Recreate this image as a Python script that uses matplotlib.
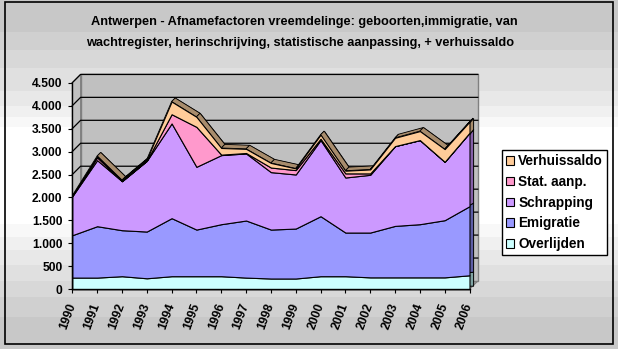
import numpy as np
import matplotlib.pyplot as plt
from matplotlib.patches import Polygon, Rectangle, Patch
from matplotlib.ticker import FuncFormatter

# Afnamefactoren vreemdelingen Antwerpen, per jaar (gestapeld)
jaren = np.arange(1990, 2007)
overlijden = [255, 255, 285, 240, 285, 285, 285, 255, 235, 235, 285, 285, 260, 260, 260, 260, 305]
emigratie = [923, 1119, 1002, 1018, 1264, 1016, 1133, 1243, 1066, 1088, 1307, 951, 976, 1121, 1158, 1245, 1505]
schrapping = [850, 1439, 1068, 1541, 2064, 1367, 1505, 1461, 1251, 1178, 1658, 1199, 1258, 1738, 1832, 1272, 1600]
stat_aanp = [0, 60, 0, 0, 200, 870, 10, 10, 100, 95, 30, 90, 30, 0, 0, 0, 0]
verhuissaldo = [15, 30, 22, 30, 276, 218, 145, 90, 100, 37, 87, 58, 87, 181, 196, 276, 240]

reeksen = [overlijden, emigratie, schrapping, stat_aanp, verhuissaldo]
namen = ['Overlijden', 'Emigratie', 'Schrapping', 'Stat. aanp.', 'Verhuissaldo']
kleuren = ['#CCFFFF', '#9999FF', '#CC99FF', '#FF99CC', '#FFCC99']
donker = ['#7FA3A3', '#5E5EA6', '#8560A8', '#A8607F', '#A88C6C']

titel1 = 'Antwerpen - Afnamefactoren vreemdelinge: geboorten,immigratie, van'
titel2 = 'wachtregister, herinschrijving, statistische aanpassing, + verhuissaldo'

W, H = 618, 349
plt.rcParams['font.family'] = ['Liberation Sans', 'DejaVu Sans']

fig = plt.figure(figsize=(W / 100, H / 100), dpi=100)
fig.patch.set_facecolor('white')

# achtergrond met verloop in banden en kader
bg = fig.add_axes([0, 0, 1, 1], zorder=-10)
rij = np.arange(H)
licht = np.interp(rij, [0, 37, 60, 98, 132, 217, 250, 280, 312, 343],
                  [0.78, 0.80, 0.85, 0.90, 1.0, 1.0, 0.92, 0.86, 0.80, 0.78])
licht = np.round(licht * 32) / 32
bg.imshow(np.repeat(licht[:, None], 2, axis=1), cmap='gray', vmin=0, vmax=1,
          aspect='auto', extent=[0, W, H, 0], interpolation='nearest')
bg.add_patch(Rectangle((4.5, 1.5), 608, 342, fill=False, edgecolor='black', lw=1.2))
bg.set_xlim(0, W)
bg.set_ylim(H, 0)
bg.axis('off')

fig.text(304 / W, 1 - 22 / H, titel1, ha='center', va='center', fontsize=9.2, fontweight='bold')
fig.text(300 / W, 1 - 43 / H, titel2, ha='center', va='center', fontsize=9.2, fontweight='bold')

x0, x1, y0, y1 = 72.3, 469.5, 289.3, 82.7
ax = fig.add_axes([x0 / W, 1 - y0 / H, (x1 - x0) / W, (y0 - y1) / H])
ax.set_xlim(1990, 2006)
ax.set_ylim(0, 4500)
ax.patch.set_visible(False)

# diepte-verschuiving omzetten van pixels naar data-eenheden
px_x = (x1 - x0) / 16
px_y = (y0 - y1) / 4500
wdx, wdy = 8.3 / px_x, 8.3 / px_y
sdx, sdy = 3.6 / px_x, 3.6 / px_y

# vloer, zijwand en achterwand
ax.add_patch(Polygon([(1990, 0), (2006, 0), (2006 + wdx, wdy), (1990 + wdx, wdy)],
                     facecolor='#A0A0A0', edgecolor='#808080', lw=0.8, clip_on=False, zorder=0))
ax.add_patch(Polygon([(1990, 0), (1990, 4500), (1990 + wdx, 4500 + wdy), (1990 + wdx, wdy)],
                     facecolor='#C0C0C0', edgecolor='#808080', lw=0.8, clip_on=False, zorder=0))
ax.add_patch(Rectangle((1990 + wdx, wdy), 16, 4500, facecolor='#C0C0C0',
                       edgecolor='#808080', lw=1.0, clip_on=False, zorder=0))
for v in range(500, 4501, 500):
    ax.plot([1990, 1990 + wdx, 2006 + wdx], [v, v + wdy, v + wdy], color='black',
            lw=0.9, clip_on=False, zorder=1)

# gestapelde vlakken: eerst de achterkant (diepte), dan de voorkant
cum = np.zeros(len(jaren))
lagen = []
for r in reeksen:
    lagen.append((cum.copy(), cum + np.array(r)))
    cum = cum + np.array(r)

for (lo, hi), kl in zip(lagen, donker):
    ax.fill_between(jaren + sdx, lo + sdy, hi + sdy, facecolor=kl, edgecolor='black',
                    lw=0.7, clip_on=False, zorder=2)
# bovenvlak van de totale lijn
for i in range(len(jaren) - 1):
    ax.add_patch(Polygon([(jaren[i], cum[i]), (jaren[i + 1], cum[i + 1]),
                          (jaren[i + 1] + sdx, cum[i + 1] + sdy), (jaren[i] + sdx, cum[i] + sdy)],
                         facecolor=donker[-1], edgecolor='black', lw=0.6, clip_on=False, zorder=2.5))
for (lo, hi), kl in zip(lagen, kleuren):
    ax.fill_between(jaren, lo, hi, facecolor=kl, edgecolor='black', lw=0.8,
                    clip_on=False, zorder=3)

for s in ['top', 'right']:
    ax.spines[s].set_visible(False)
for s in ['left', 'bottom']:
    ax.spines[s].set_color('black')
    ax.spines[s].set_linewidth(1.0)
    ax.spines[s].set_zorder(4)

ax.set_yticks(range(0, 4501, 500))
ax.yaxis.set_major_formatter(FuncFormatter(lambda v, p: f'{int(v):,}'.replace(',', '.')))
ax.set_xticks(jaren)
ax.set_xticklabels([str(j) for j in jaren], rotation=70, ha='right', va='center',
                   rotation_mode='anchor')
ax.tick_params(axis='y', direction='out', length=3, width=0.8, pad=4, labelsize=8.7)
ax.tick_params(axis='x', direction='out', length=3, width=0.8, pad=7, labelsize=8.7)
for lab in ax.get_xticklabels() + ax.get_yticklabels():
    lab.set_fontweight('bold')

handles = [Patch(facecolor=k, edgecolor='black', lw=0.8) for k in kleuren][::-1]
leg = fig.legend(handles, namen[::-1], loc='upper left', bbox_to_anchor=(502 / W, 1 - 150 / H),
                 frameon=True, fancybox=False, framealpha=1, edgecolor='black',
                 prop={'size': 9.8, 'weight': 'bold'}, handlelength=0.6, handleheight=0.6,
                 handletextpad=0.3, labelspacing=0.5, borderpad=0.3, borderaxespad=0)
leg.get_frame().set_linewidth(1.0)

fig.savefig('out.png', dpi=100)
